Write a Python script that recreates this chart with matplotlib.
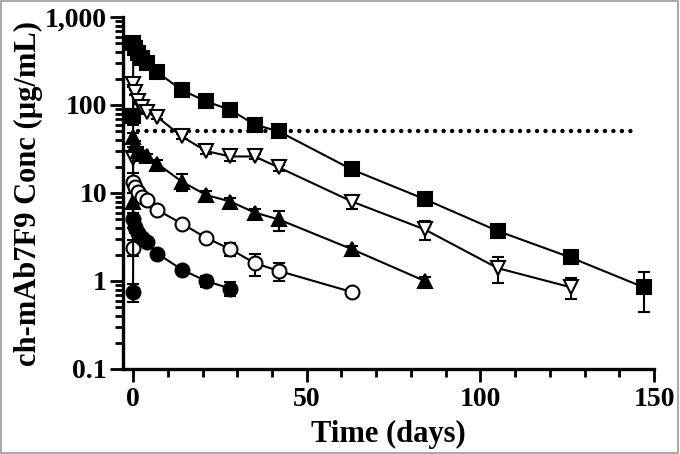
import matplotlib
matplotlib.use("Agg")
import matplotlib.pyplot as plt
from matplotlib.ticker import FixedLocator, FixedFormatter, LogLocator, NullFormatter
from matplotlib.patches import Rectangle

plt.rcParams['font.family'] = ['Liberation Serif', 'DejaVu Serif']
plt.rcParams['font.weight'] = 'bold'

# ---- data ----
time_days = [0, 0.04, 0.5, 1.5, 2.5, 4, 7, 14, 21, 28, 35, 42, 63, 84, 105, 126, 147]

sq_vals = [75, 500, 450, 390, 340, 300, 235, 148, 110, 88, 60, 50, 18.5, 8.5, 3.7, 1.85, 0.85]
sq_err = [15, 60, 40, 30, 20, 15, 10, 15, 8, 6, 4, 5, 1.2, 1.0, 0.4, 0.2, 0.4]

tdn_vals = [25, 175, 140, 110, 95, 83, 73, 44, 30, 26, 26, 19.5, 8.0, 3.85, 1.4, 0.85]
tdn_err = [8, 15, 10, 8, 6, 5, 4, 3, 2, 3, 1.5, 1.5, 1.5, 0.9, 0.45, 0.22]

tup_vals = [8, 43, 35, 30, 28, 26, 21.5, 13.5, 9.5, 8.0, 6.0, 5.0, 2.3, 1.0]
tup_err = [2, 5, 4, 3, 2, 2, 2, 3, 1, 0.8, 0.6, 1.3, 0.2, 0.1]

oc_vals = [2.4, 13.3, 11.7, 10.2, 9.0, 8.3, 6.4, 4.5, 3.1, 2.3, 1.6, 1.3, 0.75]
oc_err = [0.5, 1.5, 1.0, 0.8, 0.6, 0.5, 0.4, 0.3, 0.3, 0.4, 0.45, 0.3, 0.05]

fc_vals = [0.75, 5.0, 4.1, 3.5, 3.1, 2.8, 2.05, 1.35, 1.0, 0.82]
fc_err = [0.18, 1.0, 0.6, 0.4, 0.3, 0.2, 0.15, 0.1, 0.15, 0.15]

threshold = 50
threshold_span = [1.5, 145]

y_ticks = [0.1, 1, 10, 100, 1000]
y_ticklabels = ['0.1', '1', '10', '100', '1,000']
x_ticks = [0, 50, 100, 150]
x_minor = [10, 20, 30, 40, 60, 70, 80, 90, 110, 120, 130, 140]

# ---- figure ----
fig = plt.figure(figsize=(6.8, 4.54), dpi=100)
ax = fig.add_axes([123/680, 1 - 369/454, (654 - 123)/680, (369 - 17)/454])

series = [
    (sq_vals, sq_err, 's', 'black', 9.5),
    (tdn_vals, tdn_err, 'v', 'white', 10.5),
    (tup_vals, tup_err, '^', 'black', 10.5),
    (oc_vals, oc_err, 'o', 'white', 10),
    (fc_vals, fc_err, 'o', 'black', 10),
]

for vals, err, mk, face, ms in series:
    t = time_days[:len(vals)]
    ax.errorbar(t, vals, yerr=err, fmt='none', ecolor='black', elinewidth=1.5,
                capsize=4.5, capthick=1.5, clip_on=False, zorder=2)
    ax.plot(t, vals, color='black', lw=1.5, marker=mk, markersize=ms,
            markerfacecolor=face, markeredgecolor='black', markeredgewidth=1.5,
            clip_on=False, zorder=3)

ax.plot(threshold_span, [threshold, threshold], color='black', lw=3.2,
        linestyle=(0, (0.01, 1.9)), dash_capstyle='round', zorder=1, clip_on=False)

ax.set_yscale('log')
ax.set_ylim(0.1, 1000)
ax.set_xlim(-2.9, 150)

ax.yaxis.set_major_locator(FixedLocator(y_ticks))
ax.yaxis.set_major_formatter(FixedFormatter(y_ticklabels))
ax.yaxis.set_minor_locator(LogLocator(base=10, subs=range(2, 10)))
ax.yaxis.set_minor_formatter(NullFormatter())
ax.xaxis.set_major_locator(FixedLocator(x_ticks))
ax.xaxis.set_minor_locator(FixedLocator(x_minor))

for s in ['top', 'right']:
    ax.spines[s].set_visible(False)
for s in ['left', 'bottom']:
    ax.spines[s].set_linewidth(2.4)

ax.tick_params(axis='x', which='major', direction='out', length=9, width=2,
               labelsize=20, pad=4)
ax.tick_params(axis='y', which='major', direction='out', length=9.5, width=2,
               labelsize=20, pad=2)
ax.tick_params(axis='both', which='minor', direction='out', length=5.8, width=2)
for lab in ax.get_xticklabels() + ax.get_yticklabels():
    lab.set_fontweight('bold')

ax.set_xlabel('Time (days)', fontsize=22, fontweight='bold')
ax.xaxis.label.set_va('baseline')
ax.xaxis.set_label_coords(0.5, (369 - 442) / 352)
ax.set_ylabel('ch-mAb7F9 Conc (µg/mL)', fontsize=22, fontweight='bold')
ax.yaxis.set_label_coords(-(123 - 14) / 531, 0.5)
ax.yaxis.label.set_va('top')

fig.add_artist(Rectangle((0.002, 0.003), 0.995, 0.994, transform=fig.transFigure,
                         fill=False, edgecolor='#9a9a9a', lw=1.2))

fig.savefig('out.png', dpi=100)
